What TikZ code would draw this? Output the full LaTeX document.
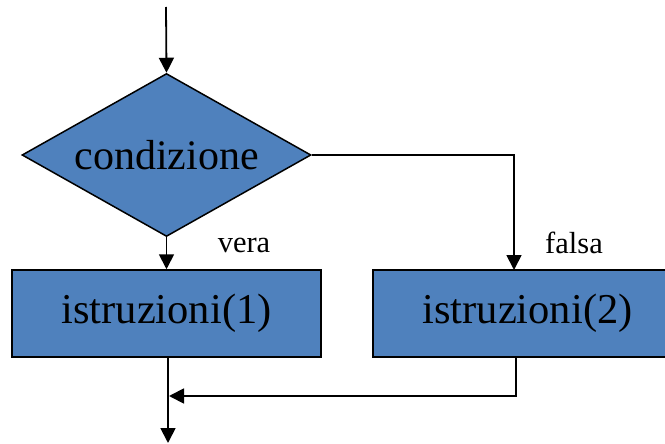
\documentclass[tikz,border=0pt]{standalone}
\usepackage{fontspec}
\setmainfont{Liberation Serif}
\usetikzlibrary{shapes.geometric,arrows.meta}
\definecolor{boxblue}{RGB}{79,129,189}
\begin{document}
\begin{tikzpicture}[x=1pt,y=-1pt,
  flow/.style={line width=1.8pt,-{Triangle[width=15pt,length=15pt]}},
  plain/.style={line width=1.8pt},
  decision/.style={diamond,draw=black,line width=1.5pt,fill=boxblue,inner sep=0pt,aspect=1.77,
    minimum width=289pt,minimum height=163pt,font=\fontsize{42}{48}\selectfont},
  action/.style={rectangle,draw=black,line width=1.5pt,fill=boxblue,inner sep=0pt,
    minimum width=309pt,minimum height=87pt,font=\fontsize{42.5}{48}\selectfont},
  lbl/.style={font=\fontsize{30.5}{34}\selectfont,inner sep=0pt}]
\useasboundingbox (0,0) rectangle (665,444);
\coordinate (start) at (166,7);
\node[decision] (cond) at (166.5,155) {condizione};
\node[action] (b1) at (166.5,313.5) {istruzioni(1)};
\node[action] (b2) at (527.5,313.5) {istruzioni(2)};
\coordinate (b2out) at (516,357);
\coordinate (merge) at (168,396);
\coordinate (finish) at (168,443);
\coordinate (b1out) at (168,357);
\coordinate (b2in) at (514,270);
\draw[flow] (start) -- (cond.north);
\draw[flow] (cond.south) -- (b1.north);
\draw[flow] (cond.east) -| (b2in);
\draw[plain] (b1out) -- (merge);
\draw[flow] (merge) -- (finish);
\draw[flow] (b2out) |- ([xshift=1pt]merge);
\node[lbl] (vera) at (244,245) {vera};
\node[lbl] (falsa) at (574,243) {falsa};
\end{tikzpicture}
\end{document}
